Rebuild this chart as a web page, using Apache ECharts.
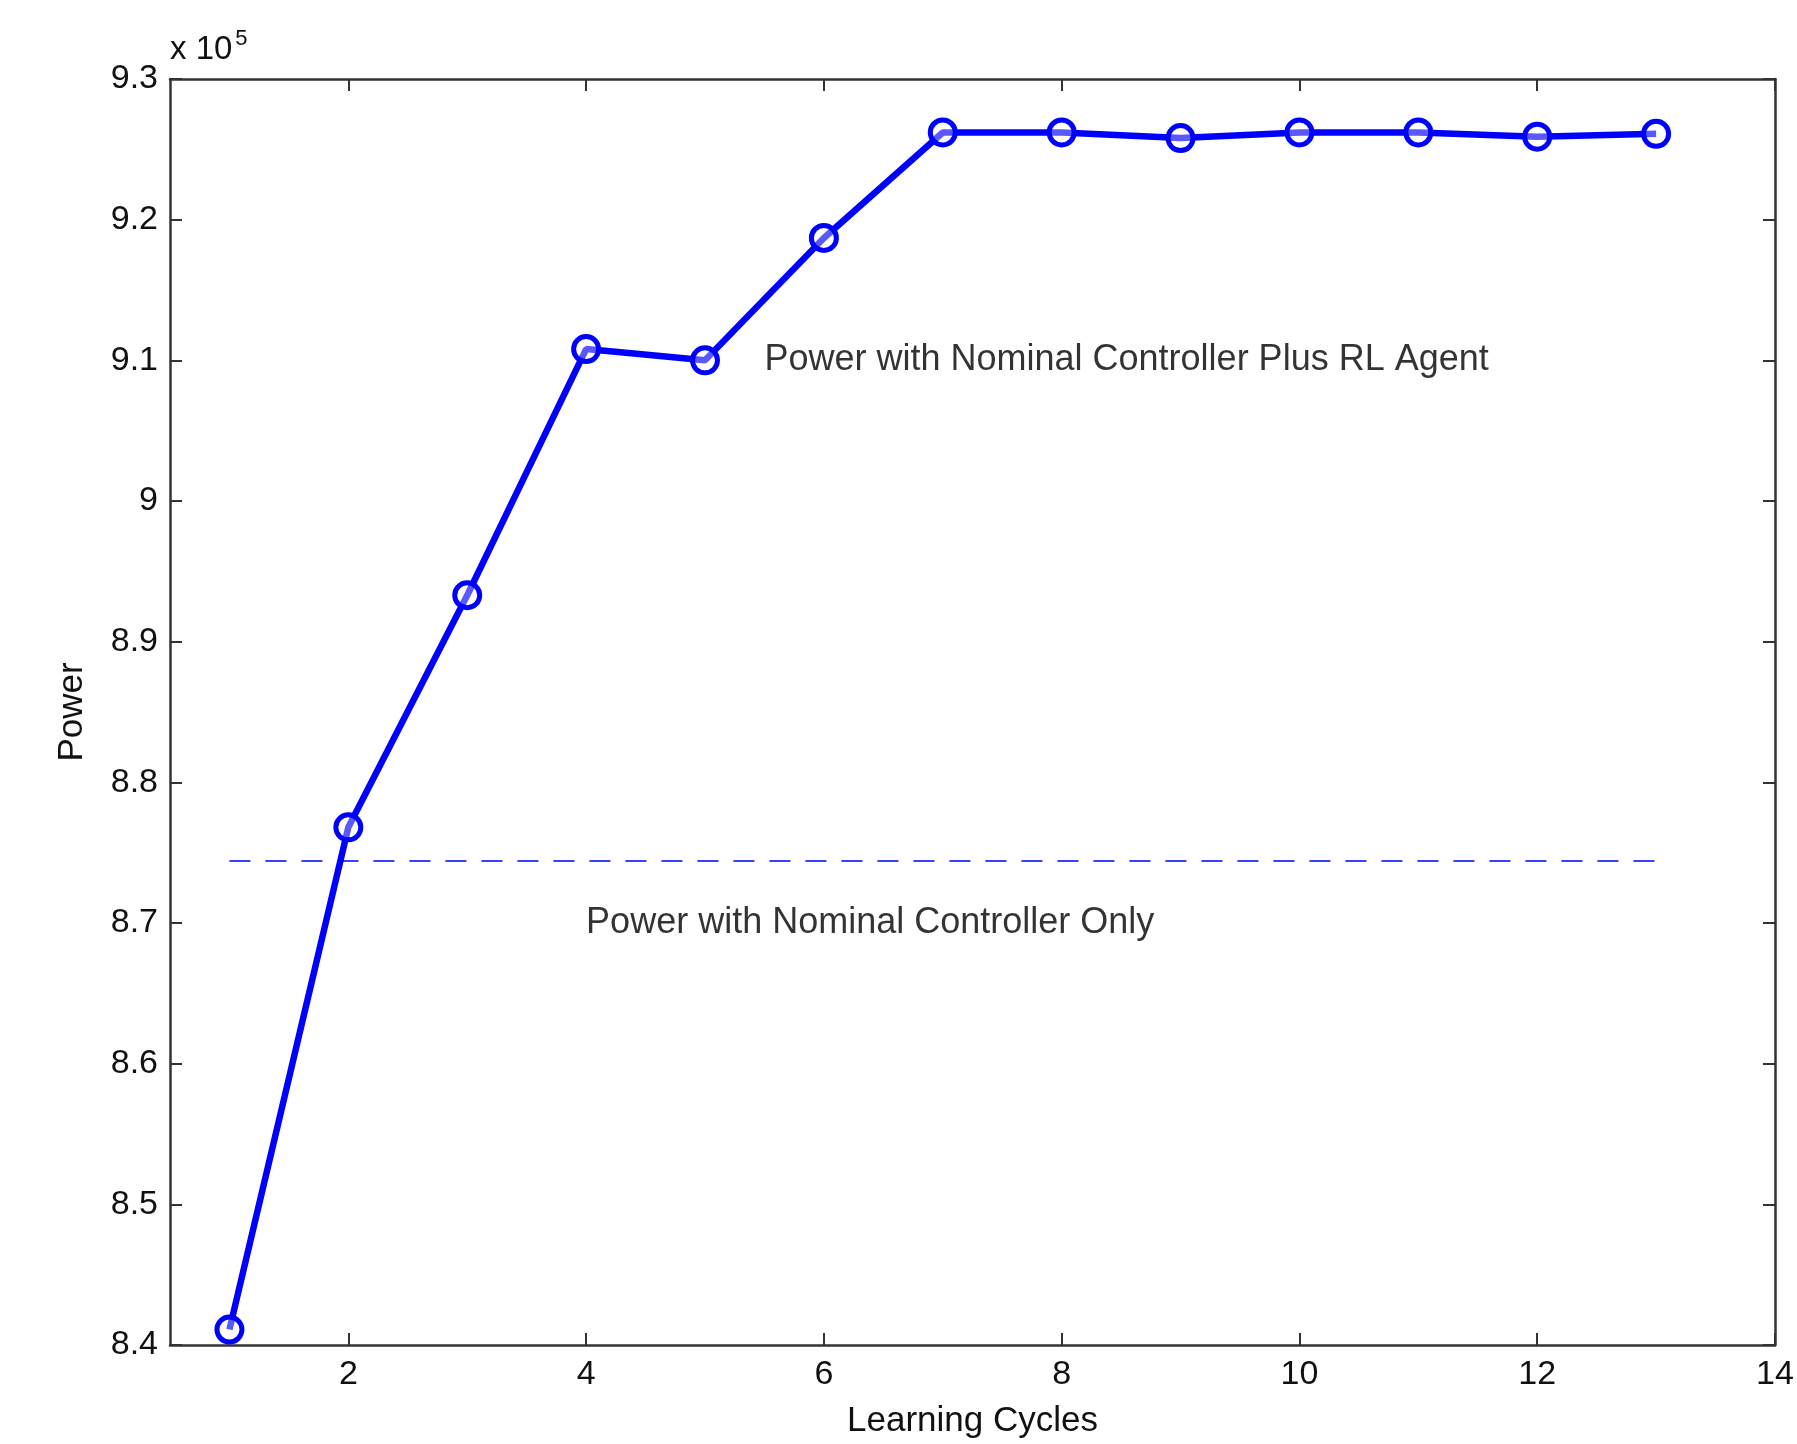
<!DOCTYPE html>
<html>
<head>
<meta charset="utf-8">
<script src="https://cdn.jsdelivr.net/npm/echarts@6/dist/echarts.min.js"></script>
<style>html,body{margin:0;padding:0;background:#fff}#c{width:1797px;height:1444px}</style>
</head>
<body>
<div id="c"></div>
<script>
const cycles = [1, 2, 3, 4, 5, 6, 7, 8, 9, 10, 11, 12, 13];
const powerRL = [841100, 876800, 893300, 910800, 910000, 918700, 926200, 926200, 925800, 926200, 926200, 925900, 926100];
const nominalPower = 874400;
const nominalRange = [1, 13];
const xTicks = [2, 4, 6, 8, 10, 12, 14];
const annotations = [
  { text: 'Power with Nominal Controller Plus RL Agent', x: 5.5, y: 910000 },
  { text: 'Power with Nominal Controller Only', x: 4.0, y: 870000 }
];

const FONT = 'Liberation Sans, Arial, Helvetica, sans-serif';
const TXT = '#111';
const AX = '#333';
const chart = echarts.init(document.getElementById('c'));
const fmtY = v => String(parseFloat((v / 1e5).toFixed(1)));

const axisLineStyle = { color: AX, width: 2.5 };
chart.setOption({
  backgroundColor: '#fff',
  animation: false,
  grid: { left: 170, right: 22, top: 79, bottom: 98, show: false },
  xAxis: [{
    type: 'value', min: 0.5, max: 14, interval: 2,
    name: 'Learning Cycles', nameLocation: 'middle', nameGap: 59,
    nameTextStyle: { fontFamily: FONT, fontSize: 35, color: TXT },
    axisLine: { show: true, onZero: false, lineStyle: axisLineStyle },
    axisTick: { show: true, inside: true, length: 12, lineStyle: { color: AX, width: 2 }, customValues: xTicks },
    axisLabel: { fontFamily: FONT, fontSize: 34, color: TXT, margin: 13, customValues: xTicks },
    splitLine: { show: false }
  }, {
    type: 'value', min: 0.5, max: 14, interval: 2, position: 'top',
    axisLine: { show: true, onZero: false, lineStyle: axisLineStyle },
    axisTick: { show: true, inside: true, length: 12, lineStyle: { color: AX, width: 2 }, customValues: xTicks },
    axisLabel: { show: false },
    splitLine: { show: false }
  }],
  yAxis: [{
    type: 'value', min: 840000, max: 930000, interval: 10000,
    name: 'Power', nameLocation: 'middle', nameGap: 80,
    nameTextStyle: { fontFamily: FONT, fontSize: 35, color: TXT },
    axisLine: { show: true, onZero: false, lineStyle: axisLineStyle },
    axisTick: { show: true, inside: true, length: 12, lineStyle: { color: AX, width: 2 } },
    axisLabel: { fontFamily: FONT, fontSize: 34, color: TXT, margin: 12, formatter: fmtY },
    splitLine: { show: false }
  }, {
    type: 'value', min: 840000, max: 930000, interval: 10000, position: 'right',
    axisLine: { show: true, onZero: false, lineStyle: axisLineStyle },
    axisTick: { show: true, inside: true, length: 12, lineStyle: { color: AX, width: 2 } },
    axisLabel: { show: false },
    splitLine: { show: false }
  }],
  graphic: [{
    type: 'text', left: 170, top: 28,
    style: {
      text: 'x 10{s|5}', fontFamily: FONT, fontSize: 33, fill: TXT,
      rich: { s: { fontFamily: FONT, fontSize: 22, fill: TXT, verticalAlign: 'top', padding: [0, 0, 22, 3] } }
    }
  }],
  series: [{
    type: 'line',
    data: cycles.map((c, i) => [c, powerRL[i]]),
    symbol: 'circle', symbolSize: 25,
    lineStyle: { color: '#0000ff', width: 6.5 },
    itemStyle: { color: 'rgba(255,255,255,0.35)', borderColor: '#0000ff', borderWidth: 5 },
    z: 3
  }, {
    type: 'line',
    data: nominalRange.map(x => [x, nominalPower]),
    symbol: 'none',
    lineStyle: { color: '#3344ff', width: 2, type: [21, 15] },
    z: 2
  }, {
    type: 'scatter',
    data: annotations.map(a => [a.x, a.y, a.text]),
    symbolSize: 0,
    silent: true,
    label: {
      show: true, position: 'right', distance: 0,
      formatter: p => p.data[2],
      fontFamily: FONT, fontSize: 36, color: '#000'
    }
  }]
});
</script>
</body>
</html>
